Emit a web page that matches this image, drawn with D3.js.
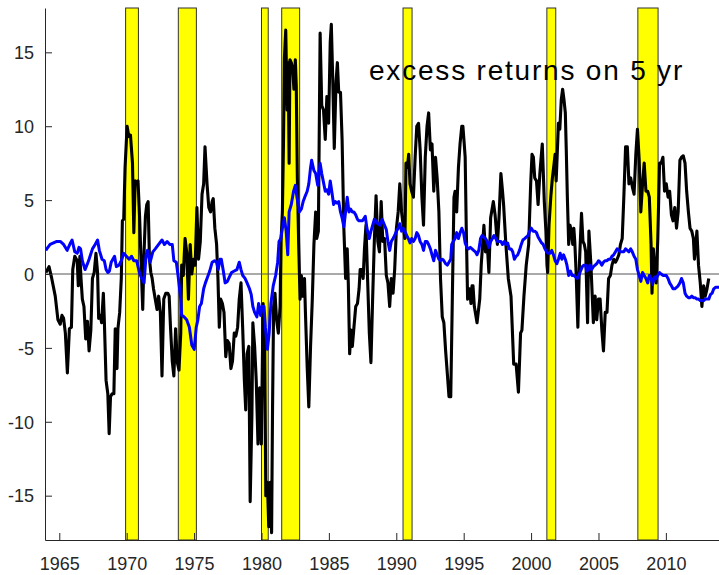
<!DOCTYPE html>
<html>
<head>
<meta charset="utf-8">
<script src="https://cdn.jsdelivr.net/npm/d3@7/dist/d3.min.js"></script>
<style>
  html, body { margin: 0; padding: 0; background: #fff; }
  svg { display: block; }
  text { font-family: "Liberation Sans", Arial, Helvetica, sans-serif; }
</style>
</head>
<body>
<svg id="chart" width="719" height="575"></svg>
<script>
// NBER recession periods (decimal years)
const recessionStarts = [1969.92, 1973.83, 1980.0, 1981.5, 1990.5, 2001.17, 2007.92];
const recessionEnds   = [1970.87, 1975.17, 1980.5, 1982.83, 1991.17, 2001.83, 2009.42];

const xTicks = [1965, 1970, 1975, 1980, 1985, 1990, 1995, 2000, 2005, 2010];
const yTicks = [-15, -10, -5, 0, 5, 10, 15];

const titleText = "excess returns on 5 yr";

// realized excess returns [year, percent]
const excessReturns = [
[1964.00,0.1],[1964.07,0.2],[1964.24,0.5],[1964.44,-0.3],[1964.70,-1.5],[1964.90,-3.1],[1965.07,-3.4],[1965.20,-2.8],[1965.32,-3.0],[1965.45,-4.0],[1965.60,-6.7],[1965.75,-3.7],[1965.90,-3.6],[1966.00,0.3],[1966.15,1.2],[1966.33,0.9],[1966.41,-0.8],[1966.53,1.2],[1966.61,-0.3],[1966.71,-1.7],[1966.83,-2.2],[1966.96,-4.4],[1967.09,-3.2],[1967.21,-5.2],[1967.34,-3.8],[1967.46,-0.3],[1967.59,0.1],[1967.72,1.4],[1967.84,0.1],[1967.92,-3.0],[1968.04,-2.8],[1968.14,-3.3],[1968.27,-1.3],[1968.34,-3.1],[1968.47,-7.2],[1968.60,-8.1],[1968.70,-10.8],[1968.80,-8.3],[1968.92,-8.1],[1969.05,-8.1],[1969.15,-3.7],[1969.28,-6.4],[1969.35,-3.7],[1969.48,-2.6],[1969.60,-0.3],[1969.68,3.6],[1969.78,3.7],[1969.88,7.2],[1970.03,10.0],[1970.16,9.3],[1970.28,9.4],[1970.43,7.5],[1970.53,2.8],[1970.63,6.3],[1970.74,6.2],[1970.84,6.3],[1970.96,3.8],[1971.09,0.2],[1971.19,-2.4],[1971.29,1.5],[1971.39,3.9],[1971.49,4.7],[1971.59,4.9],[1971.69,1.0],[1971.79,0.1],[1971.89,-0.3],[1971.99,-1.0],[1972.12,-1.7],[1972.25,-2.4],[1972.37,-1.5],[1972.50,-2.6],[1972.62,-6.9],[1972.75,-1.7],[1972.90,-1.3],[1973.05,-1.3],[1973.15,-1.5],[1973.25,-3.6],[1973.38,-5.9],[1973.50,-6.9],[1973.63,-3.7],[1973.76,-6.0],[1973.88,-6.5],[1974.01,-4.0],[1974.08,0.6],[1974.20,-0.1],[1974.33,2.4],[1974.45,1.5],[1974.58,-1.7],[1974.71,2.0],[1974.83,0.0],[1974.96,1.0],[1975.08,0.6],[1975.21,4.5],[1975.33,1.0],[1975.46,2.2],[1975.59,5.4],[1975.71,6.1],[1975.81,8.6],[1975.96,6.1],[1976.09,4.5],[1976.22,4.2],[1976.34,4.9],[1976.42,5.1],[1976.54,3.1],[1976.67,2.0],[1976.77,-0.3],[1976.87,-3.6],[1976.97,-1.7],[1977.10,-2.0],[1977.22,-2.6],[1977.35,-5.6],[1977.47,-4.5],[1977.60,-4.7],[1977.73,-6.4],[1977.85,-5.9],[1977.98,-4.0],[1978.10,-4.2],[1978.23,-3.6],[1978.35,-1.7],[1978.48,-0.6],[1978.61,-3.8],[1978.73,-7.2],[1978.83,-9.2],[1978.93,-5.4],[1979.06,-4.9],[1979.16,-15.4],[1979.29,-9.5],[1979.36,-3.3],[1979.49,-4.9],[1979.61,-7.2],[1979.74,-11.5],[1979.86,-7.7],[1979.99,-11.5],[1980.12,-2.0],[1980.24,-4.9],[1980.32,-15.0],[1980.44,-14.1],[1980.54,-17.1],[1980.65,-14.1],[1980.75,-17.5],[1980.82,-9.1],[1980.90,-2.2],[1981.00,-1.3],[1981.12,-3.1],[1981.25,-4.0],[1981.38,-2.2],[1981.45,2.2],[1981.55,4.2],[1981.63,8.8],[1981.70,14.6],[1981.80,16.5],[1981.90,11.1],[1981.98,14.3],[1982.05,7.5],[1982.11,14.5],[1982.21,14.3],[1982.31,13.9],[1982.41,12.5],[1982.51,14.5],[1982.58,12.7],[1982.66,6.5],[1982.76,2.0],[1982.86,-1.7],[1982.96,-0.1],[1983.06,-1.5],[1983.19,-0.3],[1983.26,-2.6],[1983.39,-6.3],[1983.51,-9.0],[1983.64,-4.9],[1983.77,-1.7],[1983.89,2.0],[1984.02,4.2],[1984.10,2.4],[1984.22,2.9],[1984.35,16.3],[1984.47,11.4],[1984.60,11.1],[1984.73,9.1],[1984.85,12.0],[1984.98,10.2],[1985.10,15.7],[1985.18,16.9],[1985.28,13.4],[1985.40,8.5],[1985.53,13.0],[1985.63,14.3],[1985.73,12.3],[1985.86,12.3],[1985.98,9.1],[1986.11,3.1],[1986.24,-0.3],[1986.36,1.7],[1986.44,-0.6],[1986.54,-5.4],[1986.64,-3.8],[1986.74,-4.9],[1986.86,-3.6],[1986.99,-2.2],[1987.12,-2.0],[1987.24,-1.0],[1987.32,0.3],[1987.44,0.3],[1987.54,-0.3],[1987.64,1.7],[1987.75,3.3],[1987.87,-0.3],[1988.00,-4.0],[1988.12,-6.0],[1988.25,-1.5],[1988.37,2.2],[1988.50,5.3],[1988.63,2.2],[1988.75,1.5],[1988.88,4.9],[1989.00,2.2],[1989.13,2.4],[1989.26,-0.1],[1989.38,-0.6],[1989.51,-2.2],[1989.63,-0.3],[1989.76,-1.3],[1989.88,0.3],[1990.01,3.1],[1990.14,4.2],[1990.26,6.1],[1990.39,4.2],[1990.51,3.3],[1990.64,2.4],[1990.72,7.5],[1990.82,7.2],[1990.92,8.1],[1991.02,6.1],[1991.14,5.6],[1991.27,5.2],[1991.40,7.9],[1991.52,10.0],[1991.65,10.2],[1991.77,8.4],[1991.90,5.2],[1992.02,3.3],[1992.15,7.9],[1992.28,10.0],[1992.40,10.9],[1992.53,8.4],[1992.65,8.8],[1992.78,5.6],[1992.91,7.9],[1993.03,6.5],[1993.16,4.2],[1993.28,-0.3],[1993.41,-2.9],[1993.53,-3.3],[1993.66,-5.2],[1993.79,-6.8],[1993.91,-8.3],[1994.04,-8.3],[1994.16,-1.5],[1994.28,5.2],[1994.36,5.6],[1994.48,4.2],[1994.61,7.2],[1994.73,8.8],[1994.86,10.0],[1994.94,10.0],[1995.04,8.8],[1995.11,7.9],[1995.19,3.1],[1995.29,-1.7],[1995.36,-1.0],[1995.44,-1.0],[1995.54,-2.0],[1995.62,-0.8],[1995.69,-0.8],[1995.79,-2.2],[1995.99,-3.3],[1996.19,-1.7],[1996.30,0.6],[1996.50,3.3],[1996.62,1.5],[1996.75,2.0],[1996.87,0.1],[1997.00,3.8],[1997.20,4.9],[1997.33,4.0],[1997.50,2.0],[1997.63,4.0],[1997.76,6.8],[1997.88,5.6],[1997.96,4.7],[1998.13,2.0],[1998.31,-0.3],[1998.51,-1.5],[1998.71,-6.1],[1998.89,-6.1],[1999.06,-8.0],[1999.22,-4.0],[1999.32,-3.8],[1999.47,-1.5],[1999.64,0.6],[1999.82,2.0],[1999.97,6.1],[2000.07,8.1],[2000.17,7.9],[2000.27,6.5],[2000.40,6.3],[2000.52,4.7],[2000.65,6.8],[2000.73,7.7],[2000.83,8.8],[2000.90,7.0],[2000.98,4.9],[2001.10,2.9],[2001.18,0.6],[2001.23,0.1],[2001.33,3.3],[2001.46,5.2],[2001.58,6.5],[2001.71,7.5],[2001.78,8.1],[2001.86,6.3],[2001.93,7.9],[2002.03,10.2],[2002.13,9.8],[2002.24,11.8],[2002.34,12.5],[2002.44,11.8],[2002.54,10.9],[2002.61,8.4],[2002.69,5.2],[2002.79,2.0],[2002.89,3.3],[2002.99,2.9],[2003.09,2.0],[2003.17,3.1],[2003.24,2.2],[2003.34,0.1],[2003.47,-3.6],[2003.59,0.8],[2003.74,4.1],[2003.85,2.2],[2003.95,2.0],[2004.05,1.5],[2004.19,-3.3],[2004.29,2.9],[2004.44,0.6],[2004.62,-3.3],[2004.75,-1.5],[2004.87,-3.1],[2005.00,-1.7],[2005.12,-1.7],[2005.25,-3.8],[2005.37,-5.2],[2005.50,-2.6],[2005.63,-2.6],[2005.75,-0.3],[2005.88,-0.1],[2006.00,0.6],[2006.13,1.0],[2006.26,0.8],[2006.38,1.0],[2006.51,1.3],[2006.63,2.0],[2006.76,2.4],[2006.88,5.2],[2007.01,8.6],[2007.14,8.6],[2007.26,6.1],[2007.39,6.5],[2007.51,5.9],[2007.64,5.4],[2007.77,8.1],[2007.89,9.8],[2008.02,7.7],[2008.14,4.2],[2008.27,6.1],[2008.39,7.5],[2008.52,5.6],[2008.65,5.6],[2008.77,5.2],[2008.90,2.0],[2008.97,-1.3],[2009.07,1.7],[2009.20,0.1],[2009.28,-0.6],[2009.40,2.4],[2009.53,7.5],[2009.65,7.5],[2009.78,7.9],[2009.90,5.6],[2010.03,6.1],[2010.16,5.2],[2010.28,5.6],[2010.41,4.0],[2010.53,3.6],[2010.66,4.5],[2010.79,3.1],[2010.91,4.2],[2011.04,7.7],[2011.16,7.9],[2011.29,8.0],[2011.42,7.5],[2011.54,5.6],[2011.67,4.2],[2011.79,3.1],[2011.92,2.9],[2012.04,2.4],[2012.12,1.0],[2012.22,2.0],[2012.30,2.9],[2012.42,0.6],[2012.55,-0.6],[2012.67,-2.2],[2012.80,-0.8],[2012.92,-1.5],[2013.05,-1.0],[2013.18,-0.3]
];

// fitted / forecast excess returns [year, percent]
const fittedReturns = [
[1964.00,1.6],[1964.07,1.7],[1964.32,2.0],[1964.57,2.1],[1964.82,2.2],[1965.07,2.2],[1965.32,2.0],[1965.58,1.6],[1965.83,2.1],[1965.95,2.3],[1966.15,1.5],[1966.33,1.4],[1966.46,1.8],[1966.58,1.7],[1966.71,0.9],[1966.91,0.3],[1967.09,0.7],[1967.21,1.0],[1967.46,1.7],[1967.66,2.0],[1967.84,2.3],[1967.97,1.6],[1968.17,1.0],[1968.34,0.9],[1968.47,0.3],[1968.60,0.1],[1968.72,0.2],[1968.85,0.8],[1969.10,1.2],[1969.23,0.5],[1969.43,0.6],[1969.60,0.9],[1969.78,1.4],[1969.98,1.2],[1970.18,1.0],[1970.36,1.2],[1970.53,0.9],[1970.74,0.9],[1970.94,0.1],[1971.11,-0.3],[1971.29,-0.6],[1971.44,1.3],[1971.54,1.6],[1971.74,0.8],[1971.94,1.5],[1972.12,1.7],[1972.37,2.0],[1972.62,2.3],[1972.80,2.0],[1973.00,2.2],[1973.20,2.0],[1973.38,2.0],[1973.50,0.9],[1973.68,0.8],[1973.81,-0.1],[1974.01,-1.7],[1974.08,-2.8],[1974.25,-2.9],[1974.45,-3.1],[1974.65,-3.6],[1974.83,-4.8],[1975.01,-5.1],[1975.16,-3.6],[1975.28,-3.1],[1975.41,-2.2],[1975.54,-2.0],[1975.71,-1.0],[1975.84,-0.6],[1975.96,-0.3],[1976.16,0.2],[1976.34,0.8],[1976.52,0.9],[1976.67,0.8],[1976.79,0.3],[1976.92,1.0],[1977.02,1.0],[1977.17,0.2],[1977.30,-0.6],[1977.47,-0.5],[1977.62,-0.2],[1977.78,0.1],[1977.98,0.2],[1978.18,0.3],[1978.35,0.8],[1978.48,0.3],[1978.61,-0.1],[1978.78,-0.3],[1978.93,-0.6],[1979.11,-1.0],[1979.24,-1.4],[1979.36,-2.2],[1979.49,-2.6],[1979.66,-2.9],[1979.79,-2.0],[1979.94,-2.8],[1980.04,-2.2],[1980.19,-2.2],[1980.29,-3.6],[1980.44,-5.1],[1980.57,-4.0],[1980.70,-2.0],[1980.87,-0.8],[1981.05,-0.1],[1981.20,0.8],[1981.30,2.2],[1981.43,2.4],[1981.55,3.1],[1981.70,3.8],[1981.83,2.9],[1981.95,1.3],[1982.05,4.2],[1982.21,4.7],[1982.38,5.6],[1982.51,6.0],[1982.63,5.2],[1982.81,4.2],[1982.96,4.4],[1983.09,4.9],[1983.21,5.2],[1983.39,5.6],[1983.51,6.1],[1983.64,7.2],[1983.72,7.7],[1983.89,7.0],[1984.02,6.8],[1984.17,6.0],[1984.35,7.5],[1984.47,6.8],[1984.60,6.2],[1984.73,5.6],[1984.85,5.7],[1984.98,5.4],[1985.10,6.3],[1985.23,5.5],[1985.35,4.7],[1985.48,4.9],[1985.61,4.8],[1985.73,4.9],[1985.86,4.2],[1985.98,3.8],[1986.11,3.2],[1986.24,4.2],[1986.36,5.2],[1986.49,4.2],[1986.61,4.4],[1986.74,4.2],[1986.86,4.2],[1986.99,4.0],[1987.12,3.7],[1987.24,3.6],[1987.49,3.6],[1987.70,3.9],[1987.82,3.1],[1988.00,2.4],[1988.12,2.9],[1988.25,3.3],[1988.37,3.7],[1988.50,3.6],[1988.63,3.4],[1988.80,3.3],[1988.95,3.7],[1989.13,3.3],[1989.26,3.0],[1989.38,2.2],[1989.51,1.6],[1989.63,2.2],[1989.76,2.4],[1989.88,2.6],[1990.01,2.9],[1990.14,3.1],[1990.26,3.4],[1990.39,2.9],[1990.51,3.1],[1990.64,2.9],[1990.77,2.6],[1990.89,2.4],[1991.02,2.1],[1991.14,2.4],[1991.27,2.2],[1991.40,2.4],[1991.52,2.8],[1991.65,2.6],[1991.77,2.2],[1991.90,2.0],[1992.02,1.6],[1992.15,2.2],[1992.28,2.2],[1992.40,2.0],[1992.53,1.7],[1992.65,1.3],[1992.78,0.9],[1992.91,1.6],[1993.03,1.3],[1993.16,1.0],[1993.28,0.9],[1993.41,1.0],[1993.53,0.9],[1993.66,0.7],[1993.79,0.6],[1993.91,0.8],[1994.04,1.0],[1994.11,2.0],[1994.23,2.2],[1994.36,2.4],[1994.48,2.8],[1994.61,2.4],[1994.74,2.8],[1994.86,3.1],[1994.99,2.8],[1995.11,2.1],[1995.24,1.8],[1995.36,1.7],[1995.49,1.8],[1995.62,1.7],[1995.74,1.6],[1995.87,1.5],[1995.99,1.3],[1996.12,1.6],[1996.25,2.4],[1996.37,2.6],[1996.50,2.5],[1996.62,2.4],[1996.75,2.2],[1996.87,1.8],[1997.00,2.2],[1997.13,2.4],[1997.25,2.6],[1997.38,2.4],[1997.50,2.2],[1997.76,2.2],[1997.88,2.0],[1998.01,2.2],[1998.13,2.0],[1998.26,2.1],[1998.38,1.7],[1998.51,1.7],[1998.64,1.5],[1998.76,1.0],[1998.89,1.2],[1999.01,1.3],[1999.14,1.6],[1999.27,2.0],[1999.39,2.3],[1999.52,2.4],[1999.64,2.5],[1999.77,2.6],[1999.89,2.9],[2000.02,3.1],[2000.15,2.9],[2000.27,2.9],[2000.40,2.8],[2000.52,2.5],[2000.65,2.3],[2000.78,2.1],[2000.90,2.0],[2001.03,1.7],[2001.15,1.5],[2001.28,1.4],[2001.41,1.4],[2001.53,1.6],[2001.66,1.3],[2001.78,0.9],[2001.91,0.7],[2002.03,1.0],[2002.16,1.4],[2002.29,1.0],[2002.41,1.3],[2002.54,1.0],[2002.66,0.6],[2002.79,-0.1],[2002.92,0.2],[2003.04,-0.1],[2003.17,-0.1],[2003.29,-0.2],[2003.42,-0.3],[2003.54,-0.1],[2003.67,0.2],[2003.80,0.5],[2003.92,0.6],[2004.05,0.6],[2004.12,0.2],[2004.24,0.3],[2004.37,0.6],[2004.49,0.3],[2004.62,0.5],[2004.75,0.6],[2004.87,0.7],[2005.00,0.9],[2005.12,0.8],[2005.25,0.6],[2005.37,0.8],[2005.50,0.9],[2005.63,0.9],[2005.75,1.0],[2005.88,1.0],[2006.00,1.2],[2006.13,1.3],[2006.26,1.5],[2006.38,1.7],[2006.51,1.6],[2006.63,1.5],[2006.76,1.5],[2006.88,1.5],[2007.01,1.7],[2007.14,1.6],[2007.26,1.5],[2007.39,1.7],[2007.51,1.5],[2007.64,1.2],[2007.77,1.0],[2007.89,0.3],[2008.02,-0.1],[2008.14,-0.5],[2008.27,0.1],[2008.39,-0.1],[2008.52,-0.3],[2008.65,-0.6],[2008.77,-0.1],[2008.90,-0.3],[2009.02,-0.7],[2009.15,-0.2],[2009.28,-0.3],[2009.40,-0.1],[2009.53,0.1],[2009.65,0.0],[2009.78,-0.1],[2009.90,-0.1],[2010.03,-0.1],[2010.16,-0.3],[2010.28,-0.6],[2010.41,-0.8],[2010.53,-1.0],[2010.66,-1.0],[2010.79,-0.9],[2010.91,-0.8],[2011.04,-0.6],[2011.16,-0.3],[2011.29,-0.6],[2011.42,-1.3],[2011.54,-1.5],[2011.67,-1.6],[2011.79,-1.6],[2011.92,-1.5],[2012.04,-1.6],[2012.17,-1.6],[2012.30,-1.7],[2012.42,-1.7],[2012.55,-1.8],[2012.67,-1.8],[2012.80,-1.8],[2012.92,-1.7],[2013.05,-1.7],[2013.18,-1.7],[2013.30,-1.4],[2013.43,-1.3],[2013.55,-1.0],[2013.68,-0.9],[2013.81,-0.9],[2013.94,-0.9]
];

(function drawChart() {
  const svg = d3.select("#chart");
  const plotLeft = 45, plotRight = 719, plotTop = 8, plotBottom = 540;

  const x = d3.scaleLinear().domain([1963.94, 2013.94]).range([plotLeft, plotRight]);
  const y = d3.scaleLinear().domain([-18, 18]).range([plotBottom, plotTop]);

  svg.append("defs").append("clipPath").attr("id", "plot-clip")
    .append("rect").attr("x", plotLeft).attr("y", plotTop - 2)
    .attr("width", plotRight - plotLeft).attr("height", plotBottom - plotTop + 4);

  const plot = svg.append("g").attr("clip-path", "url(#plot-clip)");

  // recession shading
  plot.selectAll("rect.recession")
    .data(d3.zip(recessionStarts, recessionEnds))
    .join("rect")
    .attr("class", "recession")
    .attr("x", d => x(d[0]))
    .attr("y", y(18))
    .attr("width", d => x(d[1]) - x(d[0]))
    .attr("height", y(-18) - y(18))
    .attr("fill", "#ffff00")
    .attr("stroke", "#333")
    .attr("stroke-width", 1);

  // zero reference line
  plot.append("line")
    .attr("x1", plotLeft).attr("x2", plotRight)
    .attr("y1", y(0)).attr("y2", y(0))
    .attr("stroke", "#555").attr("stroke-width", 1);

  const line = d3.line().x(d => x(d[0])).y(d => y(d[1]));

  plot.append("path")
    .datum(excessReturns)
    .attr("d", line)
    .attr("fill", "none")
    .attr("stroke", "#000")
    .attr("stroke-width", 3.1)
    .attr("stroke-linejoin", "round");

  plot.append("path")
    .datum(fittedReturns)
    .attr("d", line)
    .attr("fill", "none")
    .attr("stroke", "#0000ff")
    .attr("stroke-width", 3)
    .attr("stroke-linejoin", "round");

  // axes (ticks point inward)
  const axisColor = "#262626";
  const xAxis = d3.axisBottom(x).tickValues(xTicks).tickFormat(d3.format("d"))
    .tickSizeInner(-7).tickSizeOuter(0);
  const gx = svg.append("g").attr("transform", `translate(0,${plotBottom})`).call(xAxis);

  const yAxis = d3.axisLeft(y).tickValues(yTicks).tickFormat(d => String(d))
    .tickSizeInner(-7).tickSizeOuter(0);
  const gy = svg.append("g").attr("transform", `translate(${plotLeft},0)`).call(yAxis);

  [gx, gy].forEach(g => {
    g.select(".domain").attr("stroke", axisColor).attr("stroke-width", 1);
    g.selectAll(".tick line").attr("stroke", axisColor).attr("stroke-width", 1);
    g.selectAll(".tick text")
      .attr("fill", axisColor)
      .style("font-size", "18px")
      .style("font-family", "'Liberation Sans', Arial, sans-serif");
  });
  gx.selectAll(".tick text").attr("dy", null).attr("y", 30);
  gy.selectAll(".tick text").attr("x", -11).attr("dy", "0.35em");

  // annotation
  svg.append("text")
    .attr("x", 369)
    .attr("y", 80)
    .attr("fill", "#000")
    .style("font-size", "28px")
    .style("letter-spacing", "1.8px")
    .text(titleText);
})();
</script>
</body>
</html>
